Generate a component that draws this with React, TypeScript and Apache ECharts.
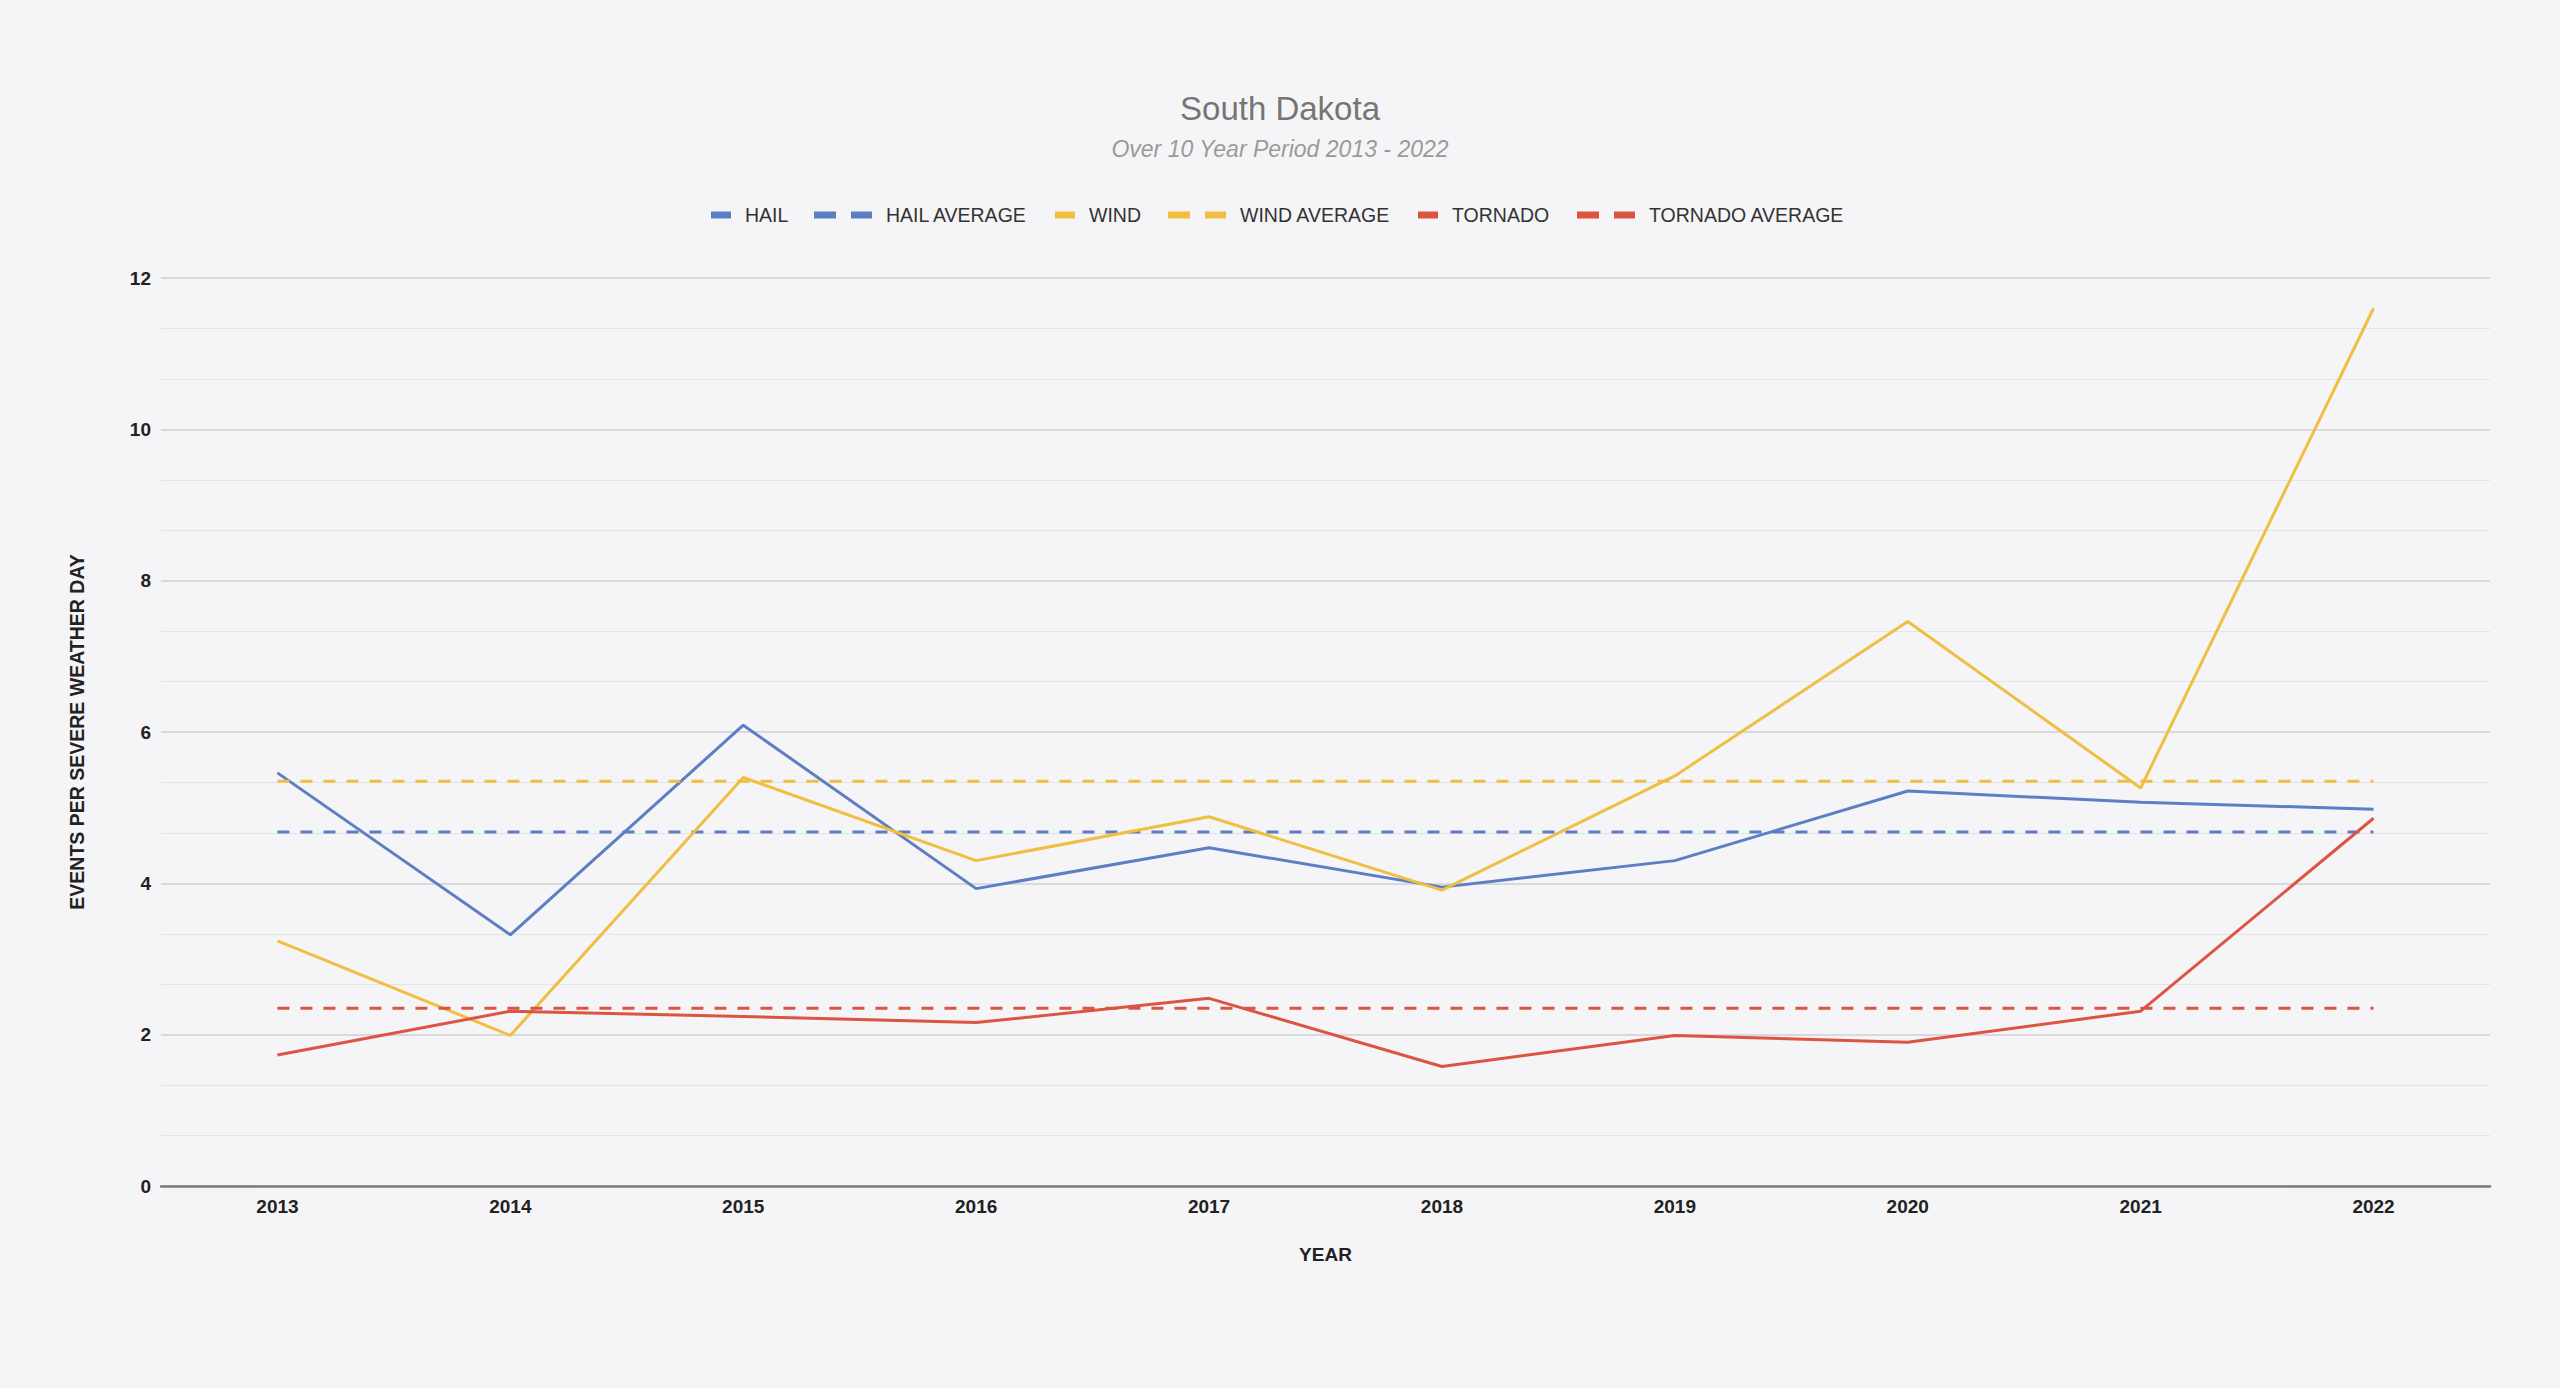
import React, { useEffect, useRef } from "react";
import * as echarts from "echarts";

const YEARS = ["2013", "2014", "2015", "2016", "2017", "2018", "2019", "2020", "2021", "2022"];
const HAIL = [5.46, 3.32, 6.09, 3.93, 4.47, 3.95, 4.3, 5.22, 5.07, 4.98];
const WIND = [3.24, 1.99, 5.4, 4.3, 4.88, 3.91, 5.42, 7.46, 5.26, 11.6];
const TORNADO = [1.73, 2.31, 2.24, 2.16, 2.48, 1.58, 1.99, 1.9, 2.31, 4.86];
const HAIL_AVG = 4.68;
const WIND_AVG = 5.35;
const TORNADO_AVG = 2.35;

const BLUE = "#5b7fc2";
const YELLOW = "#f0be41";
const RED = "#dc5442";
const FONT = "Arial, 'Liberation Sans', sans-serif";

const SOLID_ICON = "path://M0,0H20V7H0Z";
const DASH_ICON = "path://M0,0H22V7H0Z M37,0H58V7H37Z";

export default function App() {
  const ref = useRef<HTMLDivElement>(null);
  useEffect(() => {
    if (!ref.current) return;
    const chart = echarts.init(ref.current, undefined, { renderer: "svg" });

    const legendItems = [
      { name: "HAIL", left: 711, icon: SOLID_ICON, w: 20, color: BLUE },
      { name: "HAIL AVERAGE", left: 814, icon: DASH_ICON, w: 58, color: BLUE },
      { name: "WIND", left: 1055, icon: SOLID_ICON, w: 20, color: YELLOW },
      { name: "WIND AVERAGE", left: 1168, icon: DASH_ICON, w: 58, color: YELLOW },
      { name: "TORNADO", left: 1418, icon: SOLID_ICON, w: 20, color: RED },
      { name: "TORNADO AVERAGE", left: 1577, icon: DASH_ICON, w: 58, color: RED },
    ];

    const solid = (name: string, data: number[], color: string) => ({
      name,
      type: "line",
      data,
      symbol: "none",
      color,
      lineStyle: { color, width: 3 },
    });
    const avg = (name: string, value: number, color: string) => ({
      name,
      type: "line",
      data: YEARS.map(() => value),
      symbol: "none",
      color,
      lineStyle: { color, width: 3, type: [12, 11] },
    });

    chart.setOption({
      animation: false,
      backgroundColor: "#f5f5f7",
      title: {
        text: "South Dakota",
        subtext: "Over 10 Year Period 2013 - 2022",
        left: "center",
        top: 83,
        itemGap: 8,
        textStyle: {
          fontFamily: FONT,
          fontSize: 33,
          fontWeight: "normal",
          color: "#757575",
          lineHeight: 40,
        },
        subtextStyle: {
          fontFamily: FONT,
          fontSize: 23,
          fontStyle: "italic",
          color: "#9a9a9a",
          lineHeight: 26,
        },
      },
      legend: legendItems.map((it) => ({
        left: it.left,
        top: 205,
        padding: 0,
        itemWidth: it.w,
        itemHeight: 7,
        selectedMode: false,
        data: [{ name: it.name, icon: it.icon, itemStyle: { color: it.color, borderWidth: 0 } }],
        textStyle: {
          fontFamily: FONT,
          fontSize: 19.5,
          color: "#333333",
          padding: [0, 0, 0, 9],
        },
      })),
      grid: { left: 161, right: 70, top: 278, bottom: 202 },
      xAxis: {
        type: "category",
        data: YEARS,
        name: "YEAR",
        nameLocation: "middle",
        nameGap: 59,
        nameTextStyle: { fontFamily: FONT, fontSize: 19, fontWeight: "bold", color: "#222222" },
        axisTick: { show: false },
        axisLine: { show: true, lineStyle: { color: "#7a7a7a", width: 2.5 } },
        axisLabel: { fontFamily: FONT, fontSize: 19, fontWeight: "bold", color: "#222222", margin: 11 },
        splitLine: { show: false },
      },
      yAxis: {
        type: "value",
        min: 0,
        max: 12,
        interval: 2,
        name: "EVENTS PER SEVERE WEATHER DAY",
        nameLocation: "middle",
        nameRotate: 90,
        nameGap: 74,
        nameTextStyle: { fontFamily: FONT, fontSize: 19.5, fontWeight: "bold", color: "#222222" },
        axisLine: { show: false },
        axisTick: { show: false },
        axisLabel: { fontFamily: FONT, fontSize: 19, fontWeight: "bold", color: "#222222", margin: 10 },
        splitLine: { show: true, lineStyle: { color: "#cfcfd2", width: 1.5 } },
        minorTick: { show: false, splitNumber: 3 },
        minorSplitLine: { show: true, lineStyle: { color: "#e4e4e7", width: 1.2 } },
      },
      series: [
        solid("HAIL", HAIL, BLUE),
        avg("HAIL AVERAGE", HAIL_AVG, BLUE),
        solid("WIND", WIND, YELLOW),
        avg("WIND AVERAGE", WIND_AVG, YELLOW),
        solid("TORNADO", TORNADO, RED),
        avg("TORNADO AVERAGE", TORNADO_AVG, RED),
      ],
    });

    const onResize = () => chart.resize();
    window.addEventListener("resize", onResize);
    return () => {
      window.removeEventListener("resize", onResize);
      chart.dispose();
    };
  }, []);

  return (
    <div
      ref={ref}
      style={{ position: "fixed", left: 0, top: 0, width: "100vw", height: "100vh" }}
    />
  );
}
